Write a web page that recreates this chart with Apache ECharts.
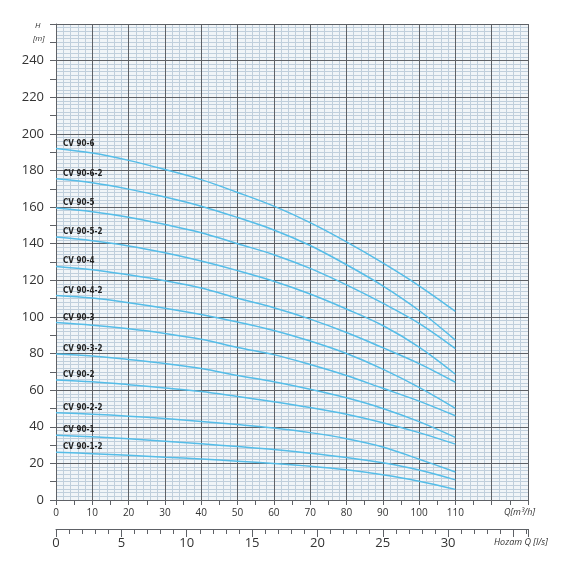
<!DOCTYPE html>
<html>
<head>
<meta charset="utf-8">
<script src="https://cdn.jsdelivr.net/npm/echarts@6/dist/echarts.min.js"></script>
<style>
html, body { margin: 0; padding: 0; background: #fff; }
#chart { width: 570px; height: 570px; }
</style>
</head>
<body>
<div id="chart"></div>
<script>
var flowQ = [0, 10, 20, 30, 40, 50, 60, 70, 80, 90, 100, 110];

// H [m] per pump
var cv90_6   = [192, 189.5, 185.5, 180.5, 175, 168, 160.5, 151.5, 141, 129.5, 117, 103];
var cv90_6_2 = [175.5, 173.3, 169.8, 165.5, 160.5, 154.3, 147.5, 139, 128.5, 117, 103.5, 87.3];
var cv90_5   = [159.5, 157.5, 154.5, 150.5, 146, 140, 134, 126.5, 117.5, 107.5, 96.5, 82.7];
var cv90_5_2 = [143.6, 141.6, 138.8, 135, 130.5, 125.3, 119.5, 112.5, 104.3, 95.3, 83.5, 68.7];
var cv90_4   = [127.6, 125.8, 123, 119.8, 115.8, 110.2, 105, 98.8, 91.5, 83.2, 74.5, 64.3];
var cv90_4_2 = [111.7, 110.3, 107.8, 104.8, 101.3, 97.2, 92.6, 86.8, 80, 71.5, 61.5, 50];
var cv90_3   = [96.9, 95.5, 93.5, 91, 87.8, 83.3, 79.4, 74, 68, 61, 54, 46];
var cv90_3_2 = [79.8, 78.7, 76.7, 74.5, 71.8, 68, 64.6, 60.5, 55.8, 50, 42.8, 34.2];
var cv90_2   = [65.6, 64.6, 63, 61.2, 59.2, 56.5, 53.7, 50.5, 46.8, 42.2, 36.8, 30.5];
var cv90_2_2 = [47.7, 46.9, 45.8, 44.5, 42.9, 41.2, 39.3, 36.8, 33.5, 29, 22.3, 15.3];
var cv90_1   = [35.4, 34.5, 33.4, 32.1, 30.7, 29.2, 27.6, 25.6, 23.2, 20.3, 16.4, 11];
var cv90_1_2 = [26.1, 25.3, 24.4, 23.4, 22.4, 21.2, 20, 18.5, 16.5, 13.8, 10.3, 5.8];

var curveNames = ['CV 90-6', 'CV 90-6-2', 'CV 90-5', 'CV 90-5-2', 'CV 90-4', 'CV 90-4-2',
                  'CV 90-3', 'CV 90-3-2', 'CV 90-2', 'CV 90-2-2', 'CV 90-1', 'CV 90-1-2'];
var curveValues = [cv90_6, cv90_6_2, cv90_5, cv90_5_2, cv90_4, cv90_4_2,
                   cv90_3, cv90_3_2, cv90_2, cv90_2_2, cv90_1, cv90_1_2];

// axis ranges / shown tick labels
var qMax = 130, qLabelMax = 110;
var hMax = 260, hLabelMax = 240;
var lsPerM3h = 1 / 3.6, lsLabelMax = 30;

var lineColor = '#55bde8';
var majorGrid = '#5e6166';
var minorGrid = '#c0cfdc';
var textFont = "'Open Sans', 'DejaVu Sans', sans-serif";
var labelFont = "'Liberation Sans Narrow', 'DejaVu Sans Condensed', sans-serif";

var chart = echarts.init(document.getElementById('chart'));

var series = curveNames.map(function (name, i) {
    return {
        name: name,
        type: 'line',
        xAxisIndex: 0,
        yAxisIndex: 0,
        smooth: 0.35,
        symbol: 'circle',
        symbolSize: 0.1,
        showSymbol: true,
        z: 5,
        lineStyle: { color: lineColor, width: 1.5 },
        itemStyle: { color: lineColor },
        label: {
            show: true,
            position: 'right',
            distance: 7,
            offset: [0, -5],
            fontFamily: labelFont,
            fontWeight: 'bold',
            fontSize: 8,
            color: '#222',
            formatter: function (p) { return p.dataIndex === 0 ? name : ''; }
        },
        data: flowQ.map(function (q, k) { return [q, curveValues[i][k]]; })
    };
});

var option = {
    animation: false,
    grid: {
        left: 56, right: 42, top: 24, bottom: 70,
        show: true, backgroundColor: '#f1f5f8', borderWidth: 0
    },
    xAxis: [
        {   // main Q axis
            type: 'value', min: 0, max: qMax, interval: 10, position: 'bottom', z: 2,
            axisLine: { show: true, lineStyle: { color: majorGrid, width: 1 } },
            axisTick: { show: true, length: 5, lineStyle: { color: majorGrid } },
            minorTick: { show: true, splitNumber: 2, length: 5, lineStyle: { color: majorGrid } },
            axisLabel: {
                margin: 8, fontSize: 10, color: '#333', fontFamily: textFont,
                formatter: function (v) { return v <= qLabelMax ? String(v) : ''; }
            },
            splitLine: { show: true, lineStyle: { color: majorGrid, width: 1 } }
        },
        {   // fine grid
            type: 'value', min: 0, max: qMax, interval: 2, z: 0,
            axisLine: { show: false }, axisTick: { show: false }, axisLabel: { show: false },
            splitLine: { show: true, lineStyle: { color: minorGrid, width: 1 } }
        },
        {   // l/s axis
            type: 'value', min: 0, max: qMax * lsPerM3h, interval: 5, position: 'bottom', offset: 29, z: 2,
            axisLine: { show: true, lineStyle: { color: majorGrid, width: 1 } },
            axisTick: { show: true, length: 8, lineStyle: { color: majorGrid } },
            minorTick: { show: true, splitNumber: 5, length: 5, lineStyle: { color: majorGrid } },
            axisLabel: {
                margin: 8, fontSize: 13, color: '#333', fontFamily: textFont,
                formatter: function (v) { return v <= lsLabelMax && v % 5 === 0 ? String(v) : ''; }
            },
            splitLine: { show: false }
        }
    ],
    yAxis: [
        {
            type: 'value', min: 0, max: hMax, interval: 20, position: 'left', z: 2,
            axisLine: { show: true, lineStyle: { color: majorGrid, width: 1 } },
            axisTick: { show: true, length: 6, lineStyle: { color: majorGrid } },
            minorTick: { show: true, splitNumber: 2, length: 6, lineStyle: { color: majorGrid } },
            axisLabel: {
                margin: 12, fontSize: 13, color: '#333', fontFamily: textFont,
                formatter: function (v) { return v <= hLabelMax ? String(v) : ''; }
            },
            splitLine: { show: true, lineStyle: { color: majorGrid, width: 1 } }
        },
        {
            type: 'value', min: 0, max: hMax, interval: 2, z: 0,
            axisLine: { show: false }, axisTick: { show: false }, axisLabel: { show: false },
            splitLine: { show: true, lineStyle: { color: minorGrid, width: 1 } }
        }
    ],
    graphic: [
        { type: 'text', left: 35, top: 22, style: { text: 'H', font: 'italic 8px ' + textFont, fill: '#333' } },
        { type: 'text', left: 33, top: 35, style: { text: '[m]', font: 'italic 8px ' + textFont, fill: '#333' } },
        { type: 'text', left: 504, top: 508, style: { text: 'Q[m³/h]', font: 'italic 9px ' + textFont, fill: '#333' } },
        { type: 'text', left: 494, top: 538, style: { text: 'Hozam Q [l/s]', font: 'italic 9px ' + textFont, fill: '#333' } }
    ],
    series: series
};

chart.setOption(option, true);
</script>
</body>
</html>
